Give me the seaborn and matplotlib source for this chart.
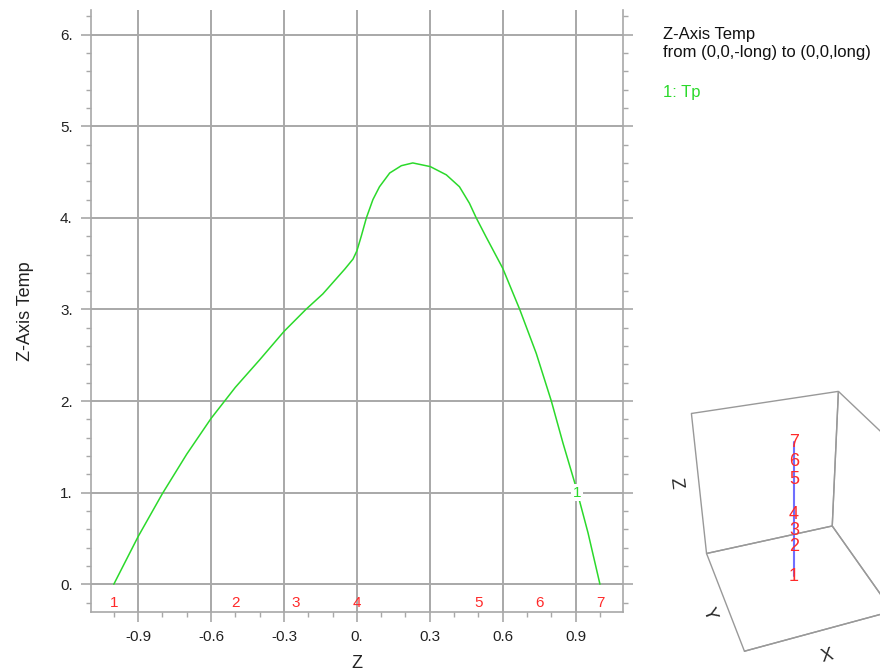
import numpy as np
import pandas as pd
import matplotlib
matplotlib.use("Agg")
import matplotlib.pyplot as plt
import seaborn as sns
from matplotlib.ticker import MultipleLocator, FuncFormatter

# ---- data ----
z_vals = [-1.0, -0.9, -0.8, -0.7, -0.6, -0.55, -0.5, -0.43, -0.4, -0.3,
          -0.21, -0.14, -0.1, -0.05, -0.016, 0.0, 0.018, 0.039, 0.066, 0.093,
          0.135, 0.183, 0.23, 0.302, 0.368, 0.422, 0.463, 0.491, 0.532, 0.6,
          0.67, 0.738, 0.8, 0.848, 0.896, 0.951, 1.0]
temp_vals = [0.0, 0.52, 0.99, 1.42, 1.81, 1.98, 2.15, 2.36, 2.45, 2.76,
             3.0, 3.17, 3.29, 3.44, 3.55, 3.64, 3.80, 4.00, 4.20, 4.34,
             4.49, 4.57, 4.60, 4.56, 4.47, 4.34, 4.16, 4.00, 3.79, 3.45,
             3.0, 2.52, 2.0, 1.54, 1.11, 0.56, 0.0]
point_labels = ["1", "2", "3", "4", "5", "6", "7"]
point_z = [-1.0, -0.5, -0.25, 0.0, 0.5, 0.75, 1.0]
point_label_y = -0.2
curve_label = "1"
curve_label_pos = (0.905, 1.0)
series_name = "1: Tp"
title_lines = ["Z-Axis Temp", "from (0,0,-long) to (0,0,long)"]
x_label = "Z"
y_label = "Z-Axis Temp"

GREEN = "#2bd92b"
RED = "#ff2a2a"
GRID = "#a8a8a8"

sns.set_theme(style="white")
plt.rcParams["font.family"] = ["Liberation Sans", "DejaVu Sans"]

fig = plt.figure(figsize=(8.8, 6.71), dpi=100)
fig.patch.set_facecolor("white")
ax = fig.add_axes([0.1031, 0.0884, 0.708 - 0.1031, 0.9851 - 0.0884])

df = pd.DataFrame({"Z": z_vals, "T": temp_vals})
sns.lineplot(data=df, x="Z", y="T", ax=ax, color=GREEN, linewidth=1.1, sort=False)

ax.set_xlim(-1.095, 1.095)
ax.set_ylim(-0.30, 6.27)
ax.xaxis.set_major_locator(MultipleLocator(0.3))
ax.xaxis.set_minor_locator(MultipleLocator(0.1))
ax.yaxis.set_major_locator(MultipleLocator(1.0))
ax.yaxis.set_minor_locator(MultipleLocator(0.2))


def mfmt(v, pos):
    s = f"{v:.1f}"
    if s == "-0.0":
        s = "0.0"
    if s.endswith(".0"):
        s = s[:-1]
    return s


ax.xaxis.set_major_formatter(FuncFormatter(mfmt))
ax.yaxis.set_major_formatter(FuncFormatter(mfmt))

ax.set_axisbelow(True)
ax.grid(True, which="major", color=GRID, linewidth=1.4)
for side in ["left", "right", "bottom"]:
    ax.spines[side].set_visible(True)
    ax.spines[side].set_color(GRID)
    ax.spines[side].set_linewidth(1.2)
ax.spines["top"].set_visible(False)
ax.tick_params(axis="both", which="major", direction="out", length=7, width=1.2,
               color=GRID, labelsize=11, labelcolor="#222222", pad=6)
ax.tick_params(axis="both", which="minor", direction="out", length=3.5, width=1.0, color=GRID)
ax.tick_params(axis="y", which="both", left=True, right=True)
ax.tick_params(axis="x", which="both", bottom=True, top=False)

ax.set_xlabel(x_label, fontsize=13, color="#222222", labelpad=8)
ax.set_ylabel(y_label, fontsize=13, color="#222222", labelpad=19)

for lab, zz in zip(point_labels, point_z):
    ax.text(zz, point_label_y, lab, color=RED, fontsize=11, ha="center", va="center")

ax.text(curve_label_pos[0], curve_label_pos[1], curve_label, color=GREEN, fontsize=11,
        ha="center", va="center",
        bbox=dict(boxstyle="square,pad=0.1", facecolor="white", edgecolor="none"))

# ---- legend / title text on right ----
fig.text(663 / 880, 1 - 35 / 671, title_lines[0], fontsize=12, color="#111111", va="center", ha="left")
fig.text(663 / 880, 1 - 53 / 671, title_lines[1], fontsize=12, color="#111111", va="center", ha="left")
fig.text(663 / 880, 1 - 92 / 671, series_name, fontsize=12, color=GREEN, va="center", ha="left")

# ---- 3D inset ----
w3, h3 = 0.312, 0.50
cx3, cy3 = 0.898, 0.228
ax3 = fig.add_axes([cx3 - w3 / 2, cy3 - h3 / 2, w3, h3], projection="3d")
ax3.set_facecolor("none")
ax3.patch.set_alpha(0)
ax3.set_proj_type("persp", focal_length=0.4)
ax3.view_init(elev=35, azim=-110)
ax3.set_xlim(-1, 1)
ax3.set_ylim(-1, 1)
ax3.set_zlim(-1.08, 1.08)
ax3.set_box_aspect((1, 1, 1.12))
ax3.set_xticks([])
ax3.set_yticks([])
ax3.set_zticks([])
ax3.grid(False)
for a in (ax3.xaxis, ax3.yaxis, ax3.zaxis):
    a.pane.set_facecolor((1, 1, 1, 0))
    a.pane.set_edgecolor("#999999")
    a.pane.set_alpha(None)
    a.pane.set_linewidth(1.0)
    a.line.set_color("#999999")
    a.line.set_linewidth(1.0)
    a.set_rotate_label(True)
ax3.set_xlabel("X", fontsize=13, labelpad=-10)
ax3.set_ylabel("Y", fontsize=13, labelpad=-10)
ax3.set_zlabel("Z", fontsize=13, labelpad=-7)

ax3.plot([0, 0], [0, 0], [point_z[0], point_z[-1]], color="#6f6fff", linewidth=1.5)
for lab, zz in zip(point_labels, point_z):
    ax3.text(0, 0, zz, lab, color=RED, fontsize=13, ha="center", va="center")

fig.savefig("out.png", dpi=100, facecolor="white")
